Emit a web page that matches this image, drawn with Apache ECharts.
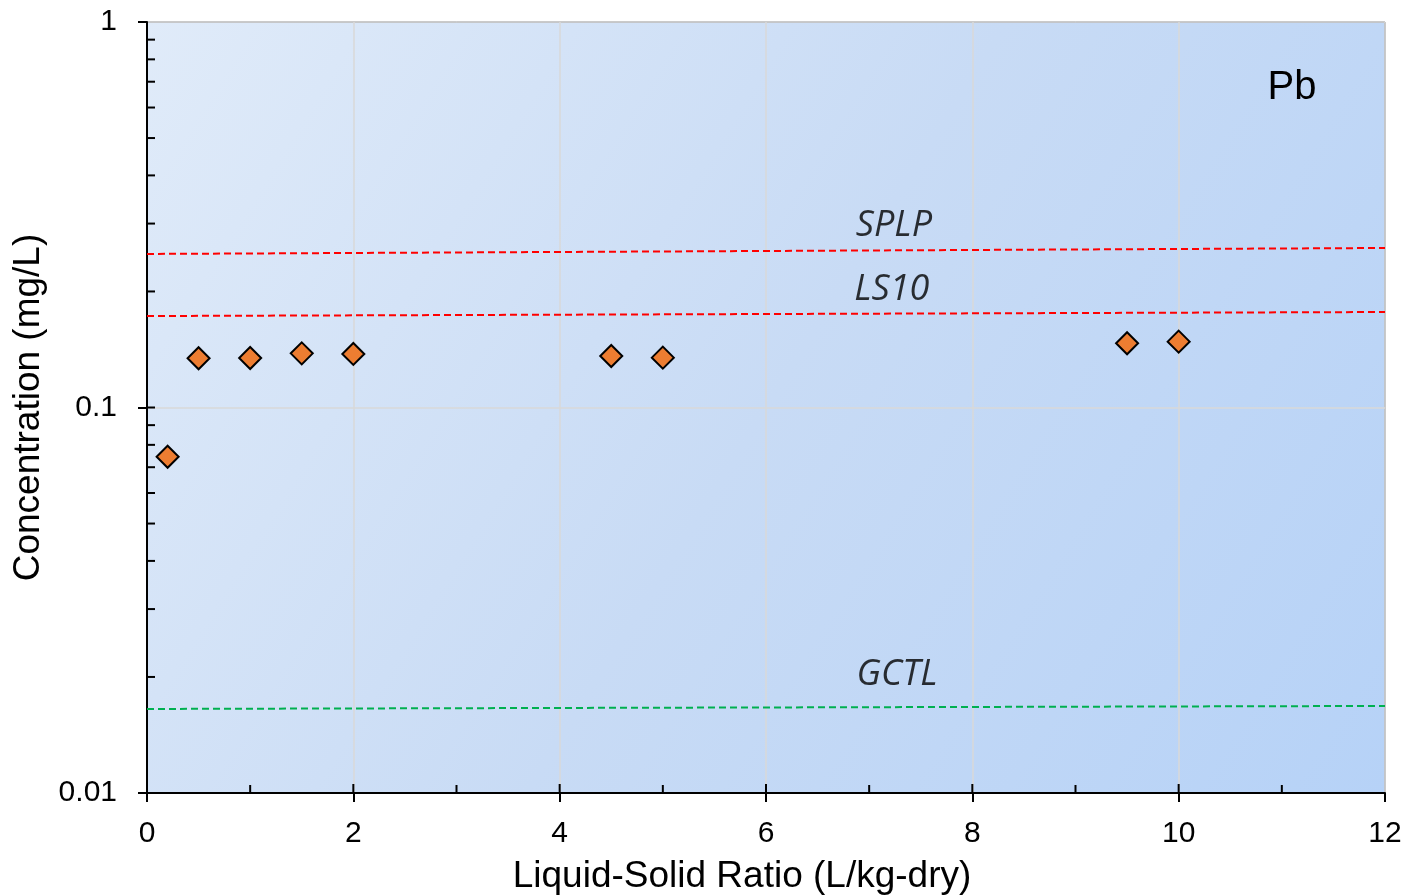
<!DOCTYPE html>
<html>
<head>
<meta charset="utf-8">
<script src="https://cdn.jsdelivr.net/npm/echarts@6/dist/echarts.min.js"></script>
<style>html,body{margin:0;padding:0;background:#fff;}#c{width:1409px;height:896px;}</style>
</head>
<body>
<div id="c"></div>
<script>
// ---- data ----
const lsRatio = [0.2, 0.5, 1, 1.5, 2, 4.5, 5, 9.5, 10];
const pbConc = [0.0745, 0.1342, 0.1344, 0.1382, 0.1377, 0.136, 0.1347, 0.1468, 0.1482];
const refX = [0, 12];
const splpLine = [0.2502, 0.2593];
const ls10Line = [0.1727, 0.1769];
const gctlLine = [0.01652, 0.01682];
const refNames = ['SPLP', 'LS10', 'GCTL'];
const refLabelX = [7.24, 7.22, 7.27];
const refLabelY = [0.2958, 0.2017, 0.0203];
const xTickLabels = ['0', '2', '4', '6', '8', '10', '12'];
const yTickLabels = {'0.01': '0.01', '0.1': '0.1', '1': '1'};
const xInnerTicks = [1, 2, 3, 4, 5, 6, 7, 8, 9, 10, 11];
const yInnerTicks = [0.02, 0.03, 0.04, 0.05, 0.06, 0.07, 0.08, 0.09, 0.1,
                     0.2, 0.3, 0.4, 0.5, 0.6, 0.7, 0.8, 0.9];
const elementName = 'Pb';

const chart = echarts.init(document.getElementById('c'));

function refSeries(vals, color) {
  return {
    type: 'line',
    data: refX.map((x, i) => [x, vals[i]]),
    symbol: 'none',
    lineStyle: { color: color, width: 2, type: [7, 4] },
    silent: true,
    z: 3
  };
}

const option = {
  animation: false,
  grid: {
    left: 147, right: 24, top: 22, bottom: 103,
    outerBoundsMode: 'none',
    containLabel: false,
    show: true,
    borderColor: '#404040',
    borderWidth: 1,
    backgroundColor: {
      type: 'linear', x: 0, y: 0, x2: 1, y2: 1,
      colorStops: [
        { offset: 0, color: '#e0ebf9' },
        { offset: 0.5, color: '#c8dbf5' },
        { offset: 1, color: '#b6d2f7' }
      ]
    }
  },
  xAxis: {
    type: 'value', min: 0, max: 12, interval: 2,
    name: 'Liquid-Solid Ratio (L/kg-dry)',
    nameLocation: 'middle', nameGap: 65,
    nameTextStyle: { fontFamily: 'Liberation Sans', fontSize: 37, color: '#000', padding: [0, 48, 0, 0] },
    axisLine: { show: true, onZero: false, lineStyle: { color: '#000', width: 2 } },
    axisTick: { show: true, inside: false, length: 9, lineStyle: { color: '#000', width: 2 } },
    axisLabel: {
      margin: 26, fontFamily: 'Liberation Sans', fontSize: 30, color: '#000',
      formatter: v => xTickLabels[Math.round(v / 2)]
    },
    splitLine: { show: true, lineStyle: { color: '#d9d9d9', width: 1.5 } }
  },
  yAxis: {
    type: 'log', logBase: 10, min: 0.01, max: 1,
    name: 'Concentration (mg/L)',
    nameLocation: 'middle', nameGap: 94,
    nameTextStyle: { fontFamily: 'Liberation Sans', fontSize: 37, color: '#000' },
    axisLine: { show: true, lineStyle: { color: '#000', width: 2 } },
    axisTick: { show: true, inside: false, length: 9, lineStyle: { color: '#000', width: 2 } },
    axisLabel: {
      margin: 30, fontFamily: 'Liberation Sans', fontSize: 30, color: '#000',
      formatter: v => yTickLabels[String(+v.toPrecision(3))] || ''
    },
    splitLine: { show: true, lineStyle: { color: '#d9d9d9', width: 1.5 } },
    minorTick: { show: false }
  },
  graphic: [],
  series: [
    refSeries(splpLine, '#ff0000'),
    refSeries(ls10Line, '#ff0000'),
    refSeries(gctlLine, '#00b050'),
    {
      type: 'scatter',
      data: refNames.map((n, i) => ({ value: [refLabelX[i], refLabelY[i]], name: n })),
      symbolSize: 0,
      silent: true,
      label: {
        show: true, position: 'inside',
        formatter: p => p.name,
        fontFamily: 'Open Sans', fontStyle: 'italic', fontWeight: 500, fontSize: 36, color: '#000'
      },
      z: 4
    },
    {
      type: 'scatter',
      data: lsRatio.map((x, i) => [x, pbConc[i]]),
      symbol: 'diamond',
      symbolSize: 22,
      itemStyle: { color: '#ed7d31', borderColor: '#000', borderWidth: 2, opacity: 1 },
      z: 5
    },
    {
      type: 'custom',
      data: xInnerTicks.map(x => [x, 0.01]),
      renderItem: (params, api) => {
        const p = api.coord([api.value(0), api.value(1)]);
        const len = (api.value(0) % 2 === 0) ? 9 : 8;
        return { type: 'line', shape: { x1: p[0], y1: p[1], x2: p[0], y2: p[1] - len },
                 style: { stroke: '#000', lineWidth: 2 } };
      },
      clip: false, silent: true, z: 6
    },
    {
      type: 'custom',
      data: yInnerTicks.map(v => [0, v]),
      renderItem: (params, api) => {
        const p = api.coord([api.value(0), api.value(1)]);
        const len = 8;
        return { type: 'line', shape: { x1: p[0], y1: p[1], x2: p[0] + len, y2: p[1] },
                 style: { stroke: '#000', lineWidth: 2 } };
      },
      clip: false, silent: true, z: 6
    }
  ]
};
chart.setOption(option);

// element label in the top-right corner of the plot area
const rect = chart.getModel().getComponent('grid').coordinateSystem.getRect();
chart.setOption({
  graphic: [{
    type: 'text',
    x: rect.x + rect.width - 93,
    y: rect.y + 66,
    style: { text: elementName, fontFamily: 'Liberation Sans', fontSize: 40, fill: '#000',
             textAlign: 'center', textVerticalAlign: 'middle' },
    z: 10
  }]
});
</script>
</body>
</html>
